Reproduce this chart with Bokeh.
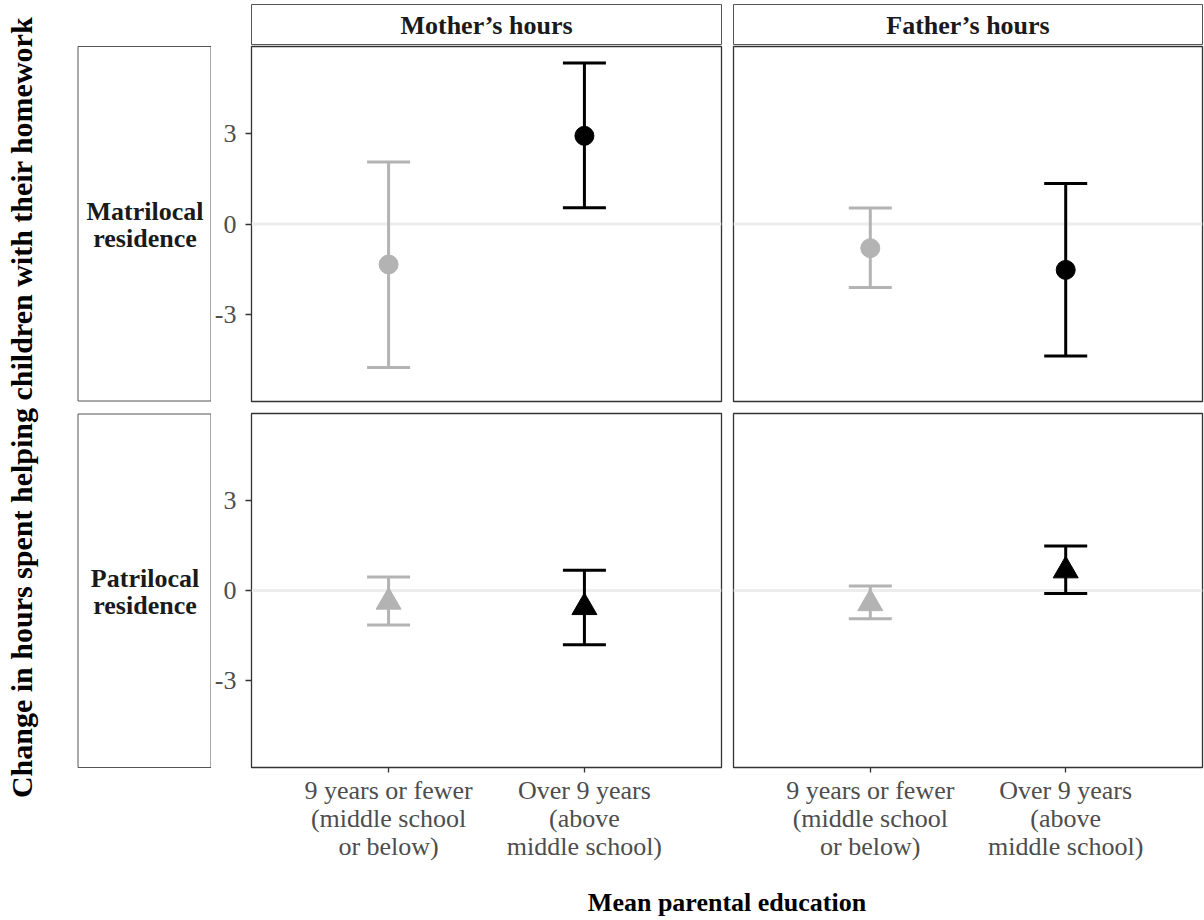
import math
from bokeh.plotting import figure
from bokeh.models import (Range1d, FactorRange, FixedTicker, Whisker, TeeHead,
                          ColumnDataSource, Span, Label)
from bokeh.layouts import row, column
from bokeh.embed import file_html
from bokeh.resources import INLINE
from bokeh.core.properties import value

# ---------------- data ----------------
education = ["9 years or fewer\n(middle school\nor below)",
             "Over 9 years\n(above\nmiddle school)"]
residence = ["Matrilocal\nresidence", "Patrilocal\nresidence"]
parent = ["Mother\u2019s hours", "Father\u2019s hours"]

mat_mother_est = [-1.34, 2.92]
mat_mother_lo = [-4.75, 0.54]
mat_mother_hi = [2.05, 5.33]

mat_father_est = [-0.80, -1.52]
mat_father_lo = [-2.10, -4.37]
mat_father_hi = [0.53, 1.34]

pat_mother_est = [-0.38, -0.56]
pat_mother_lo = [-1.15, -1.80]
pat_mother_hi = [0.45, 0.67]

pat_father_est = [-0.43, 0.66]
pat_father_lo = [-0.94, -0.10]
pat_father_hi = [0.15, 1.48]

series_colors = ["#B3B3B3", "#000000"]
y_ticks = [-3, 0, 3]
y_tick_labels = {-3: "-3", 0: "0", 3: "3"}
y_limits = (-5.88, 5.88)

FONT = "Liberation Serif"
PANEL_BORDER = "#333333"
STRIP_BORDER = "#555555"


def base_fig(fw, fh, left, right, top, bottom, x_range, y_range,
             x_axis=None, y_axis=None):
    p = figure(frame_width=fw, frame_height=fh,
               x_range=x_range, y_range=y_range,
               x_axis_location=x_axis, y_axis_location=y_axis,
               min_border_left=left, min_border_right=right,
               min_border_top=top, min_border_bottom=bottom,
               output_backend="svg", toolbar_location=None)
    p.background_fill_color = "white"
    p.border_fill_color = "white"
    p.xgrid.visible = False
    p.ygrid.visible = False
    return p


def panel(est, lo, hi, marker, msize, fw, fh, left, right, top, bottom,
          show_y, show_x):
    xr = FactorRange(factors=education, range_padding=0.2,
                     range_padding_units="absolute")
    yr = Range1d(*y_limits)
    p = base_fig(fw, fh, left, right, top, bottom, xr, yr,
                 x_axis="below" if show_x else None,
                 y_axis="left" if show_y else None)
    p.outline_line_color = PANEL_BORDER
    p.outline_line_width = 1.3
    p.add_layout(Span(location=0, dimension="width", line_color="#EDEDED",
                      line_width=3, level="underlay"))
    for i in range(len(education)):
        src = ColumnDataSource(dict(x=[education[i]], est=[est[i]],
                                    lo=[lo[i]], hi=[hi[i]]))
        c = series_colors[i]
        w = Whisker(source=src, base="x", upper="hi", lower="lo",
                    line_color=c, line_width=3,
                    upper_head=TeeHead(size=43, line_color=c, line_width=3),
                    lower_head=TeeHead(size=43, line_color=c, line_width=3))
        p.add_layout(w)
        p.scatter(x="x", y="est", source=src, marker=marker, size=msize,
                  fill_color=c, line_color=c)
    if show_y:
        ax = p.yaxis[0]
        ax.ticker = FixedTicker(ticks=y_ticks)
        ax.major_label_overrides = y_tick_labels
        ax.major_label_text_font = FONT
        ax.major_label_text_font_size = "26px"
        ax.major_label_text_color = "#4D4D4D"
        ax.major_tick_out = 6
        ax.major_tick_in = 0
        ax.major_tick_line_color = PANEL_BORDER
        ax.major_tick_line_width = 1.3
        ax.minor_tick_line_color = None
        ax.axis_line_color = None
        ax.major_label_standoff = 9
    if show_x:
        ax = p.xaxis[0]
        ax.major_label_text_font = FONT
        ax.major_label_text_font_size = "26px"
        ax.major_label_text_color = "#4D4D4D"
        ax.major_label_text_line_height = 0.98
        ax.major_label_orientation = "horizontal"
        ax.major_tick_out = 5
        ax.major_tick_in = 0
        ax.major_tick_line_color = PANEL_BORDER
        ax.major_tick_line_width = 1.3
        ax.axis_line_color = None
        ax.major_label_standoff = 3
    return p


def strip(text, fw, left, right):
    p = base_fig(fw, 41, left, right, 4, 0, Range1d(0, 1), Range1d(0, 1))
    p.outline_line_color = STRIP_BORDER
    p.outline_line_width = 1
    p.add_layout(Label(x=0.5, y=0.5, text=text, text_align="center",
                       text_baseline="middle", text_font=FONT,
                       text_font_style="bold", text_font_size="26px",
                       text_color="#1A1A1A"))
    return p


LW, RW = 470, 469
# top strips
s1 = strip(parent[0], LW, 40, 6)
s2 = strip(parent[1], RW, 6, 2)

# panels
p11 = panel(mat_mother_est, mat_mother_lo, mat_mother_hi, "circle", 19,
            LW, 355, 40, 6, 1, 3, True, False)
p12 = panel(mat_father_est, mat_father_lo, mat_father_hi, "circle", 19,
            RW, 355, 6, 2, 1, 3, False, False)
p21 = panel(pat_mother_est, pat_mother_lo, pat_mother_hi, "triangle", 25,
            LW, 354, 40, 6, 9, 112, True, True)
p22 = panel(pat_father_est, pat_father_lo, pat_father_hi, "triangle", 25,
            RW, 354, 6, 2, 9, 112, False, True)

# x title
xt = base_fig(993, 41, 0, 0, 0, 0, Range1d(211, 1204), Range1d(-920, -879))
xt.outline_line_color = None
xt.text(x=[726.5], y=[-902], text=["Mean parental education"],
        text_font=value(FONT), text_font_style="bold",
        text_font_size="26px", text_color="#000000",
        text_align="center", text_baseline="middle")

# left: y title + row strips
lf = base_fig(211, 920, 0, 0, 0, 0, Range1d(0, 211), Range1d(-920, 0))
lf.outline_line_color = None
lf.quad(left=[77.5, 77.5], right=[210.5, 210.5], top=[-46, -413.5],
        bottom=[-400.5, -767], fill_color=None, line_color=STRIP_BORDER,
        line_width=1)
row_centers = [-224.5, -591.5]
for lab, yc in zip(residence, row_centers):
    lines = lab.split("\n")
    n = len(lines)
    for k, ln in enumerate(lines):
        lf.text(x=[144.5], y=[yc + (n - 1) * 13.5 - k * 27], text=[ln],
                text_font=value(FONT), text_font_style="bold",
                text_font_size="26px", text_color="#1A1A1A",
                text_align="center", text_baseline="middle")
lf.text(x=[21], y=[-407],
        text=["Change in hours spent helping children with their homework"],
        angle=math.pi / 2, text_font=value(FONT), text_font_style="bold",
        text_font_size="30px", text_color="#000000",
        text_align="center", text_baseline="alphabetic")

right_col = column(row(s1, s2), row(p11, p12), row(p21, p22), xt)
layout = row(lf, right_col)

open("out.html", "w").write(file_html(layout, INLINE))
